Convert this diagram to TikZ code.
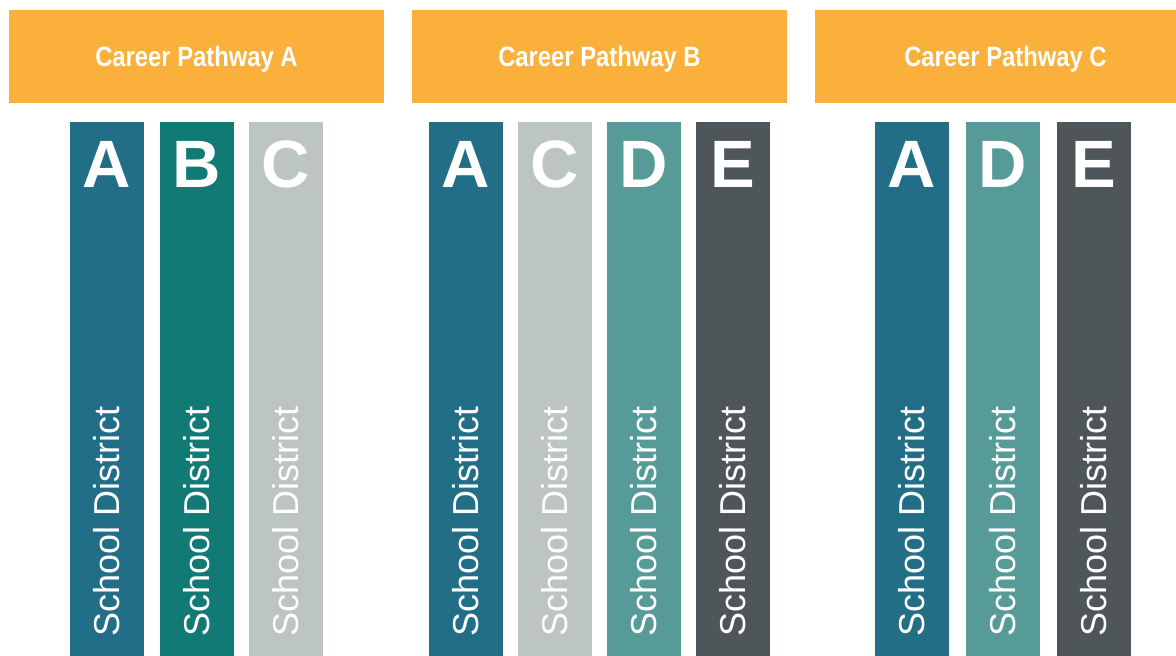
\documentclass[tikz,border=0pt]{standalone}
\usepackage{fontspec}
\setmainfont{Liberation Sans}
\newfontfamily\headfont[FakeStretch=0.85]{Liberation Sans}
\usepackage{tikz}

\definecolor{pathorange}{HTML}{FBB03B}
\definecolor{distA}{HTML}{236E87}
\definecolor{distB}{HTML}{127A75}
\definecolor{distC}{HTML}{BCC5C3}
\definecolor{distD}{HTML}{579B98}
\definecolor{distE}{HTML}{4E5659}

\begin{document}
\begin{tikzpicture}[x=1pt, y=-1pt,
	every node/.style={inner sep=0pt, text=white},
	pathway/.style={fill=pathorange, minimum height=93pt, text height=20pt, text depth=0pt,
		font=\headfont\bfseries\fontsize{28}{28}\selectfont},
	district/.style={minimum width=74pt, minimum height=534pt, anchor=north},
	letter/.style={anchor=base, font=\bfseries\fontsize{67}{67}\selectfont},
	distname/.style={rotate=90, anchor=west, font=\fontsize{36}{36}\selectfont}]

% Canvas
\clip (0,0) rectangle (1176,656);

% Pathway headers
\node[pathway, minimum width=375pt] (pA) at (196.5,56.5) {Career Pathway A};
\node[pathway, minimum width=375pt] (pB) at (599.5,56.5) {Career Pathway B};
\node[pathway, minimum width=381pt] (pC) at (1005.5,56.5) {Career Pathway C};

% School district bars under each pathway
\foreach \n/\x/\l in {a1/107/A, a2/197/B, a3/286/C,
		b1/466/A, b2/555/C, b3/644/D, b4/733/E,
		c1/912/A, c2/1003/D, c3/1094/E} {
	\node[district, fill=dist\l] (\n) at (\x,122) {};
	\node[letter] (\n-l) at (\x,187) {\l};
	\node[distname] (\n-t) at (\x,637) {School District};
}

\end{tikzpicture}
\end{document}
